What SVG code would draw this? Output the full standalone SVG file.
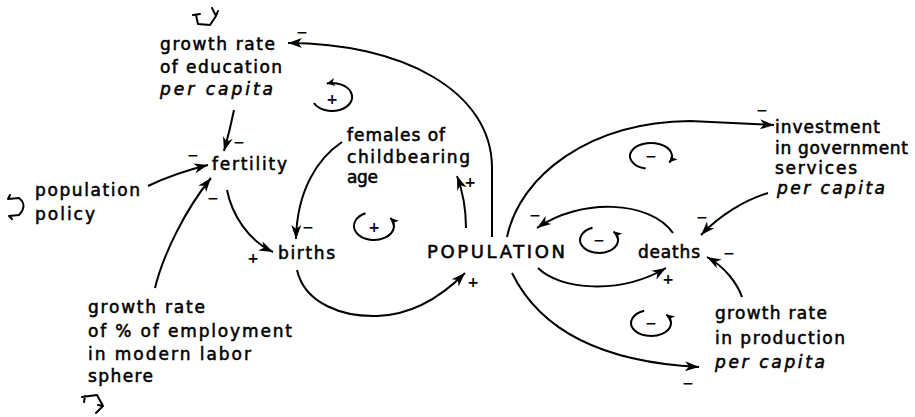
<svg xmlns="http://www.w3.org/2000/svg" width="915" height="417" viewBox="0 0 915 417">
  <defs>
    <!-- barbed arrowhead for causal links -->
    <marker id="head" markerUnits="userSpaceOnUse" markerWidth="15" markerHeight="10" refX="14" refY="5" orient="auto" overflow="visible">
      <path d="M0,0 L14,5 L0,10 L4,5 Z" fill="#000"/>
    </marker>
    <!-- small arrowhead for loop-polarity circles -->
    <marker id="loophead" markerUnits="userSpaceOnUse" markerWidth="9" markerHeight="8" refX="8" refY="4" orient="auto" overflow="visible">
      <path d="M0,0 L8,4 L0,8 L2,4 Z" fill="#000"/>
    </marker>
    <style>
      .lbl { font-family: "DejaVu Sans", "Liberation Sans", sans-serif; font-size: 17px; fill: #000; stroke: #000; stroke-width: 0.55; }
      .it { font-style: italic; }
      .big { font-size: 18px; }
      .sign { font-family: "DejaVu Sans", "Liberation Sans", sans-serif; font-size: 14px; font-weight: bold; fill: #000; text-anchor: middle; }
      .link { fill: none; stroke: #000; stroke-width: 2; marker-end: url(#head); }
      .loop { fill: none; stroke: #000; stroke-width: 2; marker-end: url(#loophead); }
      .src { fill: none; stroke: #000; stroke-width: 2; stroke-linecap: round; stroke-linejoin: round; }
    </style>
  </defs>

  <!-- causal links -->
  <g id="connectors">
    <path class="link" d="M234,110 Q230,130 224,151"/>
    <path class="link" d="M148,186 Q175,173 208,165"/>
    <path class="link" d="M155,288 C163,255 185,210 211,178"/>
    <path class="link" d="M227,190 C232,215 248,240 273,252"/>
    <path class="link" d="M342,142 C318,158 297,190 296,239"/>
    <path class="link" d="M466,228 Q466,200 457,176"/>
    <path class="link" d="M492,237 L492,168 C492,90 400,43 288,43"/>
    <path class="link" d="M297,270 C305,305 345,317 377,316 C412,315 442,296 465,273"/>
    <path class="link" d="M507,237 C520,175 590,122 690,121 L774,125"/>
    <path class="link" d="M512,273 C540,330 600,362 699,367"/>
    <path class="link" d="M673,233 C650,200 580,198 537,228"/>
    <path class="link" d="M538,268 C560,290 620,295 666,268"/>
    <path class="link" d="M768,193 C745,200 720,215 701,235"/>
    <path class="link" d="M742,297 C737,283 725,267 707,257"/>
  </g>

  <!-- loop polarity markers -->
  <g id="loops">
    <path class="loop" d="M314,103 A20,14 0 1 0 326.8,83.5"/>
    <path class="loop" d="M365.5,213.3 A20,14 0 1 0 390.4,218"/>
    <path class="loop" d="M645.6,168.6 A21,13 0 1 1 669.2,162.5"/>
    <path class="loop" d="M592.5,227.8 A19,13 0 1 0 613.6,231.6"/>
    <path class="loop" d="M644.2,310.8 A20,13 0 1 0 666.3,314.6"/>
    <text class="sign" x="332" y="104">+</text>
    <text class="sign" x="374" y="232">+</text>
    <text class="sign" x="651" y="161">−</text>
    <text class="sign" x="599" y="245">−</text>
    <text class="sign" x="651" y="328">−</text>
  </g>

  <!-- link polarities -->
  <g id="polarities">
    <text class="sign" x="302" y="37">−</text>
    <text class="sign" x="239" y="147">−</text>
    <text class="sign" x="193" y="160">−</text>
    <text class="sign" x="213" y="203">−</text>
    <text class="sign" x="253" y="263">+</text>
    <text class="sign" x="308" y="232">−</text>
    <text class="sign" x="470" y="187">+</text>
    <text class="sign" x="473" y="287">+</text>
    <text class="sign" x="535" y="220">−</text>
    <text class="sign" x="668" y="284">+</text>
    <text class="sign" x="762" y="115">−</text>
    <text class="sign" x="702" y="222">−</text>
    <text class="sign" x="729" y="258">−</text>
    <text class="sign" x="688" y="388">−</text>
  </g>

  <g id="education">
    <path class="src" d="M193,15 L200,14 M196,15 L198,24 L210,25 L216,16 L212,8 M216,16 L218,11"/>
    <text class="lbl" x="160" y="50" textLength="115" lengthAdjust="spacing">growth rate</text>
    <text class="lbl" x="160" y="72.5" textLength="122" lengthAdjust="spacing">of education</text>
    <text class="lbl it" x="160" y="95" textLength="113" lengthAdjust="spacing">per capita</text>
  </g>

  <g id="fertility">
    <text class="lbl" x="212" y="170" textLength="75" lengthAdjust="spacing">fertility</text>
  </g>

  <g id="policy">
    <path class="src" d="M8,199 L19,198 Q28,205 19,215 L9,216 M8,199 L10,195 M9,216 L12,219"/>
    <text class="lbl" x="35" y="196" textLength="105" lengthAdjust="spacing">population</text>
    <text class="lbl" x="35" y="220" textLength="60" lengthAdjust="spacing">policy</text>
  </g>

  <g id="births">
    <text class="lbl" x="278" y="259" textLength="57" lengthAdjust="spacing">births</text>
  </g>

  <g id="females">
    <text class="lbl" x="347" y="141" textLength="98" lengthAdjust="spacing">females of</text>
    <text class="lbl" x="347" y="162.5" textLength="123" lengthAdjust="spacing">childbearing</text>
    <text class="lbl" x="347" y="183" textLength="31" lengthAdjust="spacing">age</text>
  </g>

  <g id="population">
    <text class="lbl big" x="427" y="258" textLength="138" lengthAdjust="spacing">POPULATION</text>
  </g>

  <g id="deaths">
    <text class="lbl" x="638" y="258" textLength="62" lengthAdjust="spacing">deaths</text>
  </g>

  <g id="investment">
    <text class="lbl" x="775" y="133" textLength="105" lengthAdjust="spacing">investment</text>
    <text class="lbl" x="775" y="154" textLength="133" lengthAdjust="spacing">in government</text>
    <text class="lbl" x="775" y="174" textLength="82" lengthAdjust="spacing">services</text>
    <text class="lbl it" x="777" y="194" textLength="108" lengthAdjust="spacing">per capita</text>
  </g>

  <g id="production">
    <text class="lbl" x="715" y="319" textLength="112" lengthAdjust="spacing">growth rate</text>
    <text class="lbl" x="715" y="344" textLength="130" lengthAdjust="spacing">in production</text>
    <text class="lbl it" x="715" y="368" textLength="110" lengthAdjust="spacing">per capita</text>
  </g>

  <g id="employment">
    <path class="src" d="M82,397 L97,395 L103,406 L96,413 M85,396 L84,402 M103,406 L98,405"/>
    <text class="lbl" x="88" y="313" textLength="117" lengthAdjust="spacing">growth rate</text>
    <text class="lbl" x="88" y="337" textLength="204" lengthAdjust="spacing">of % of employment</text>
    <text class="lbl" x="88" y="360" textLength="163" lengthAdjust="spacing">in modern labor</text>
    <text class="lbl" x="88" y="382" textLength="65" lengthAdjust="spacing">sphere</text>
  </g>
</svg>
